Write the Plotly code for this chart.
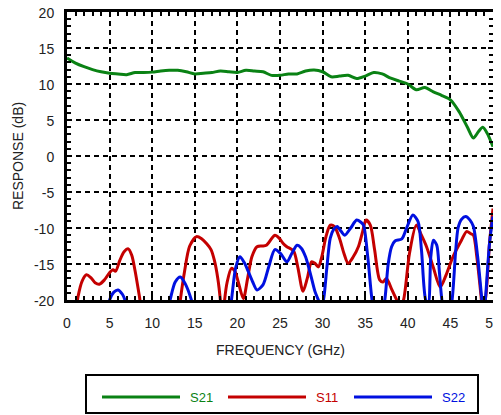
import plotly.graph_objects as go

# ---------------- data ----------------
s21_freq = [0, 1, 2, 3, 4, 5, 6, 7, 8, 9, 10, 11, 12, 13, 14, 15, 16, 17, 18, 19,
            20, 21, 22, 23, 24, 25, 26, 27, 28, 29, 30, 31, 32, 33, 34, 35, 36, 37,
            38, 39, 40, 41, 42, 43, 44, 45, 46, 47, 47.7, 48.3, 48.8, 49.3, 50]
s21_db = [13.6, 12.9, 12.4, 12.0, 11.7, 11.5, 11.4, 11.3, 11.6, 11.6, 11.65, 11.8, 11.9, 11.9,
          11.7, 11.4, 11.5, 11.6, 11.8, 11.7, 11.6, 11.9, 11.8, 11.7, 11.2, 11.2, 11.4, 11.4,
          11.8, 11.95, 11.7, 11.0, 11.1, 11.2, 10.75, 11.1, 11.6, 11.4, 10.8, 10.4, 10.0,
          9.2, 9.5, 8.9, 8.4, 7.8, 6.2, 4.0, 2.5, 3.4, 4.0, 3.2, 1.3]

s11_freq = [0.9, 1.3, 1.8, 2.3, 2.8, 3.3, 3.8, 4.4, 5.0, 5.4, 5.7, 6.2, 6.7, 7.2, 7.6, 8.0,
            8.5, 9.0, 11.0, 13.0, 13.3, 13.8, 14.4, 15.2, 15.8, 16.4, 16.9, 17.3, 17.7, 18.0,
            18.25, 18.5, 18.8, 19.3, 19.7, 20.1, 20.7, 21.2, 21.7, 22.3, 22.9, 23.4, 24.0,
            24.4, 24.9, 25.4, 25.8, 26.6, 27.1, 27.7, 28.2, 28.7, 29.1, 29.5, 29.9, 30.4,
            30.9, 31.4, 32.0, 32.5, 33.0, 33.6, 34.2, 34.7, 35.1, 35.6, 36.1, 36.7, 37.1,
            37.5, 38.1, 38.7, 39.1, 39.5, 40.2, 41.0, 41.6, 42.2, 43.0, 43.8, 44.5, 45.3,
            46.3, 46.9, 47.4, 47.7, 48.1, 48.6, 48.8, 49.2, 49.6, 50.0]
s11_db = [-23, -19.5, -17.3, -16.5, -16.9, -17.6, -17.8, -17.2, -16.2, -15.8, -16.0, -14.5,
          -13.3, -12.9, -13.8, -16.0, -19.5, -23, -26, -23, -20, -16, -12.5, -11.2, -11.5,
          -12.2, -13.0, -14.5, -17, -20, -24, -20, -17.5, -15.6, -16.0, -17.5, -19.8, -17,
          -14.0, -12.6, -12.5, -12.4, -11.5, -11.0, -11.4, -12.2, -12.6, -13.2, -15.5,
          -18.8, -17, -14.7, -14.9, -15.4, -14, -11.2, -9.6, -9.8, -11.5, -13.5, -14.9,
          -14, -12.6, -10.5, -8.9, -9.6, -13, -17.2, -17.5, -17.0, -18.5, -20, -21, -20,
          -13.5, -9.6, -11, -12.6, -15.5, -18.2, -16.5, -14, -11.7, -10.5, -10.8, -11.0,
          -14, -19.5, -22, -19, -12, -7.3]

s22_freq = [4.7, 5.0, 5.5, 6.0, 6.5, 6.8, 7.2, 9.5, 11.7, 12.1, 12.7, 13.3, 13.9, 14.6, 15.0,
            17.0, 19.0, 19.3, 19.8, 20.3, 20.8, 21.3, 21.8, 22.3, 23.0, 23.7, 24.4, 25.1,
            25.8, 26.4, 27.0, 27.5, 28.0, 28.6, 29.1, 29.5, 29.8, 30.1, 30.5, 30.9, 31.3,
            31.7, 32.2, 32.6, 33.3, 34.0, 34.5, 34.8, 35.3, 35.8, 36.5, 37.3, 37.7, 38.1,
            38.5, 39.3, 39.8, 40.6, 41.2, 41.6, 42.1, 42.4, 42.7, 43.0, 43.4, 43.7, 44.0,
            44.6, 45.2, 45.6, 45.9, 46.3, 46.8, 47.3, 47.7, 48.2, 48.7, 48.9, 49.1, 49.6, 50.0]
s22_db = [-22, -20, -18.9, -18.6, -19.2, -20, -23, -26, -22, -20, -17.5, -16.8, -17.8, -20,
          -22, -26, -22, -20, -15.5, -14.0, -14.8, -16.1, -17.5, -18.6, -17.9, -15.3, -13.0,
          -13.6, -14.7, -13.5, -12.4, -12.8, -14, -16.5, -18.8, -20, -21, -20, -15.5, -11.4,
          -10.2, -9.8, -10.5, -11.0, -10.0, -8.9, -9.2, -9.6, -14, -20, -25, -20, -15,
          -12.6, -11.8, -11.5, -10.2, -8.2, -9.1, -13, -20, -20.5, -14, -11.7, -12.4, -16,
          -20, -24, -20, -13.5, -10.0, -8.8, -8.4, -8.9, -9.8, -14, -20, -22, -20, -12, -8.4]

series = [
    ("S21", s21_freq, s21_db, "#0a8214"),
    ("S11", s11_freq, s11_db, "#c40000"),
    ("S22", s22_freq, s22_db, "#0010e0"),
]

x_ticks = [0, 5, 10, 15, 20, 25, 30, 35, 40, 45, 50]
y_ticks = [-20, -15, -10, -5, 0, 5, 10, 15, 20]

# ---------------- figure ----------------
OFF = 8  # page body margin
W, H = 501 - OFF, 415 - OFF
ML, MR, MT, MB = 67 - OFF, 8, 12 - OFF, 115
PW, PH = W - ML - MR, H - MT - MB

fig = go.Figure()
for name, fx, fy, col in series:
    fig.add_trace(go.Scatter(x=fx, y=fy, mode="lines", name=name,
                             line=dict(color=col, width=3, shape="spline", smoothing=0.8),
                             showlegend=False))

font = dict(family="Liberation Sans, Arial, Helvetica, sans-serif", size=14, color="#222")

axis_common = dict(
    showline=True, linecolor="black", linewidth=3, mirror="allticks",
    showgrid=True, gridcolor="black", gridwidth=2, griddash="5px,4px",
    ticks="inside", ticklen=5, tickwidth=1.5, tickcolor="black",
    minor=dict(ticks="inside", ticklen=4, tickwidth=1.5, tickcolor="black", dtick=1,
               showgrid=False),
    zeroline=False, tickfont=font, automargin=False, ticklabeloverflow="allow",
)

fig.update_xaxes(range=[0, 50], tickvals=x_ticks, ticktext=[str(v) for v in x_ticks],
                 ticklabelstandoff=8, **axis_common)
fig.update_yaxes(range=[-20, 20], tickvals=y_ticks, ticktext=[str(v) for v in y_ticks],
                 ticklabelstandoff=7, ticklabelshift=1, **axis_common)


def px_x(p):
    return (p - OFF - ML) / PW


def px_y(p):
    return (H - MB - (p - OFF)) / PH


shapes = [dict(type="rect", xref="paper", yref="paper",
               x0=px_x(86), x1=px_x(478), y0=px_y(413), y1=px_y(375),
               line=dict(color="black", width=2), fillcolor="rgba(0,0,0,0)")]
annotations = [
    dict(xref="paper", yref="paper", x=px_x(280), y=px_y(350), text="FREQUENCY (GHz)",
         showarrow=False, xanchor="center", yanchor="middle", font=font),
    dict(xref="paper", yref="paper", x=px_x(18), y=px_y(156), text="RESPONSE (dB)",
         showarrow=False, xanchor="center", yanchor="middle", textangle=-90, font=font),
]
leg_y = px_y(397)
leg_x = [(102, 180, 188), (228, 306, 314), (354, 432, 440)]
for (name, _, _, col), (a, b, t) in zip(series, leg_x):
    shapes.append(dict(type="line", xref="paper", yref="paper", x0=px_x(a), x1=px_x(b),
                       y0=leg_y, y1=leg_y, line=dict(color=col, width=3)))
    annotations.append(dict(xref="paper", yref="paper", x=px_x(t), y=leg_y, text=name,
                            showarrow=False, xanchor="left", yanchor="middle",
                            font=dict(family=font["family"], size=13, color=col)))

fig.update_layout(
    width=W, height=H,
    margin=dict(l=ML, r=MR, t=MT, b=MB),
    paper_bgcolor="white", plot_bgcolor="white",
    shapes=shapes, annotations=annotations,
    showlegend=False,
)

fig.write_html("out.html")
